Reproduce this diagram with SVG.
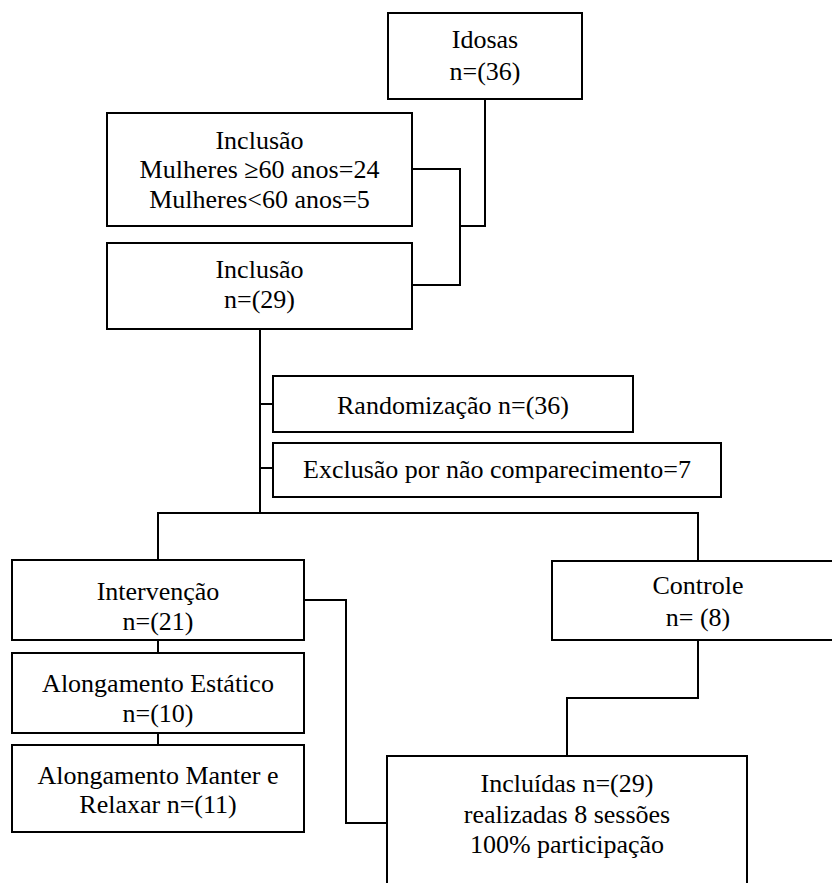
<svg xmlns="http://www.w3.org/2000/svg" width="832" height="883" viewBox="0 0 832 883">
<style>
.box{fill:#fff;stroke:#000;stroke-width:2}
.ln{fill:none;stroke:#000;stroke-width:2}
text{font-family:"Liberation Serif","Times New Roman",serif;font-size:26px;fill:#000;text-anchor:middle}
</style>
<rect width="832" height="883" fill="#fff"/>
<g id="connectors">
<path class="ln" d="M485 99 V226 H460"/>
<path class="ln" d="M412 169 H460 V285 H412"/>
<path class="ln" d="M260 329 V513"/>
<path class="ln" d="M260 404 H273 M260 468 H273"/>
<path class="ln" d="M158 560 V513 H698 V561"/>
<path class="ln" d="M158 640 V653 M158 733 V745"/>
<path class="ln" d="M304 600 H346 V823 H387"/>
<path class="ln" d="M698 640 V698 H567 V756"/>
</g>
<g id="idosas"><rect class="box" x="388" y="13" width="194" height="86"/><text x="485" y="48">Idosas</text><text x="485" y="80">n=(36)</text></g>
<g id="inclusao1"><rect class="box" x="107" y="113" width="305" height="113"/><text x="259.5" y="149">Inclusão</text><text x="259.5" y="178">Mulheres ≥60 anos=24</text><text x="259.5" y="208">Mulheres&lt;60 anos=5</text></g>
<g id="inclusao2"><rect class="box" x="107" y="243" width="305" height="86"/><text x="259.5" y="278">Inclusão</text><text x="259.5" y="308">n=(29)</text></g>
<g id="randomizacao"><rect class="box" x="273" y="376" width="360" height="56"/><text x="453" y="414">Randomização n=(36)</text></g>
<g id="exclusao"><rect class="box" x="273" y="443" width="448" height="54"/><text x="497" y="478">Exclusão por não comparecimento=7</text></g>
<g id="intervencao"><rect class="box" x="12" y="560" width="292" height="80"/><text x="158" y="600">Intervenção</text><text x="158" y="630">n=(21)</text></g>
<g id="controle"><rect class="box" x="552" y="561" width="292" height="79"/><text x="698" y="594">Controle</text><text x="698" y="626">n= (8)</text></g>
<g id="estatico"><rect class="box" x="12" y="653" width="292" height="80"/><text x="158" y="692">Alongamento Estático</text><text x="158" y="722">n=(10)</text></g>
<g id="manter"><rect class="box" x="12" y="745" width="292" height="87"/><text x="158" y="784">Alongamento Manter e</text><text x="158" y="813">Relaxar n=(11)</text></g>
<g id="incluidas"><rect class="box" x="387" y="756" width="360" height="140"/><text x="567" y="792">Incluídas n=(29)</text><text x="567" y="823">realizadas 8 sessões</text><text x="567" y="853">100% participação</text></g>
</svg>
